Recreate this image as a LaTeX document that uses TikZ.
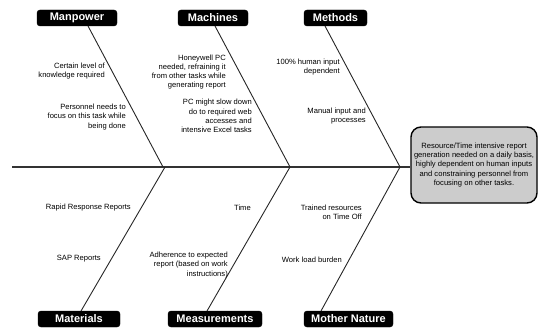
\documentclass[tikz,border=0pt]{standalone}
\usepackage{fontspec}
\setmainfont{Liberation Sans}
\begin{document}
\begin{tikzpicture}[x=1pt,y=-1pt,
  header/.style={fill=black,draw=black,rounded corners=3pt,text=white,font=\fontsize{11}{12}\selectfont\bfseries,minimum height=16pt,inner sep=0pt},
  cause/.style={anchor=east,align=right,inner sep=0pt,font=\fontsize{7.6}{9.2}\selectfont},
  bone/.style={draw=black!85,line width=0.9pt},
  spine/.style={draw=black!80,line width=1.4pt},
  effectbox/.style={draw=black,line width=1.4pt,fill=black!20,rounded corners=10pt,align=center,font=\fontsize{7.6}{9.2}\selectfont,minimum width=126pt,minimum height=76pt,inner sep=0pt}]
\useasboundingbox (0,0) rectangle (544,329);
% effect
\node[effectbox] (effect) at (474,165) {Resource/Time intensive report\\generation needed on a daily basis,\\highly dependent on human inputs\\and constraining personnel from\\focusing on other tasks.};
\coordinate (spinestart) at (12,167);
\draw[spine] (spinestart) -- (spinestart -| effect.west);
% headers
\node[header,minimum width=80pt] (manpower) at (77,18) {Manpower};
\node[header,minimum width=70pt] (machines) at (213,18) {Machines};
\node[header,minimum width=63pt] (methods) at (335.5,18) {Methods};
\node[header,minimum width=82pt] (materials) at (79,319) {Materials};
\node[header,minimum width=94pt] (measurements) at (215,319) {Measurements};
\node[header,minimum width=89pt] (mothernature) at (348.5,319) {Mother Nature};
% bone coordinates
\coordinate (mpT) at (88,26);   \coordinate (mpS) at (163,167);
\coordinate (maT) at (215,26);  \coordinate (maS) at (290,167);
\coordinate (meT) at (325,26);  \coordinate (meS) at (400,167);
\coordinate (mtB) at (81,311);  \coordinate (mtS) at (165,167);
\coordinate (msB) at (207,311); \coordinate (msS) at (290,167);
\coordinate (mnB) at (321,311); \coordinate (mnS) at (400,167);
\draw[bone] (mpT) -- (mpS);
\draw[bone] (maT) -- (maS);
\draw[bone] (meT) -- (meS);
\draw[bone] (mtB) -- (mtS);
\draw[bone] (msB) -- (msS);
\draw[bone] (mnB) -- (mnS);
% causes
\node[cause] (c1) at (105,71) {Certain level of\\knowledge required};
\node[cause] (c2) at (126,117) {Personnel needs to\\focus on this task while\\being done};
\node[cause] (c3) at (226,72) {Honeywell PC\\needed, refraining it\\from other tasks while\\generating report};
\node[cause] (c4) at (252,116) {PC might slow down\\do to required web\\accesses and\\intensive Excel tasks};
\node[cause] (c5) at (340,67) {100\% human input\\dependent};
\node[cause] (c6) at (366,116) {Manual input and\\processes};
\node[cause] (c7) at (131,208) {Rapid Response Reports};
\node[cause] (c8) at (101,259) {SAP Reports};
\node[cause] (c9) at (251,208) {Time};
\node[cause] (c10) at (228,265) {Adherence to expected\\report (based on work\\instructions)};
\node[cause] (c11) at (362,212) {Trained resources\\on Time Off};
\node[cause] (c12) at (342,260) {Work load burden};
\end{tikzpicture}
\end{document}
